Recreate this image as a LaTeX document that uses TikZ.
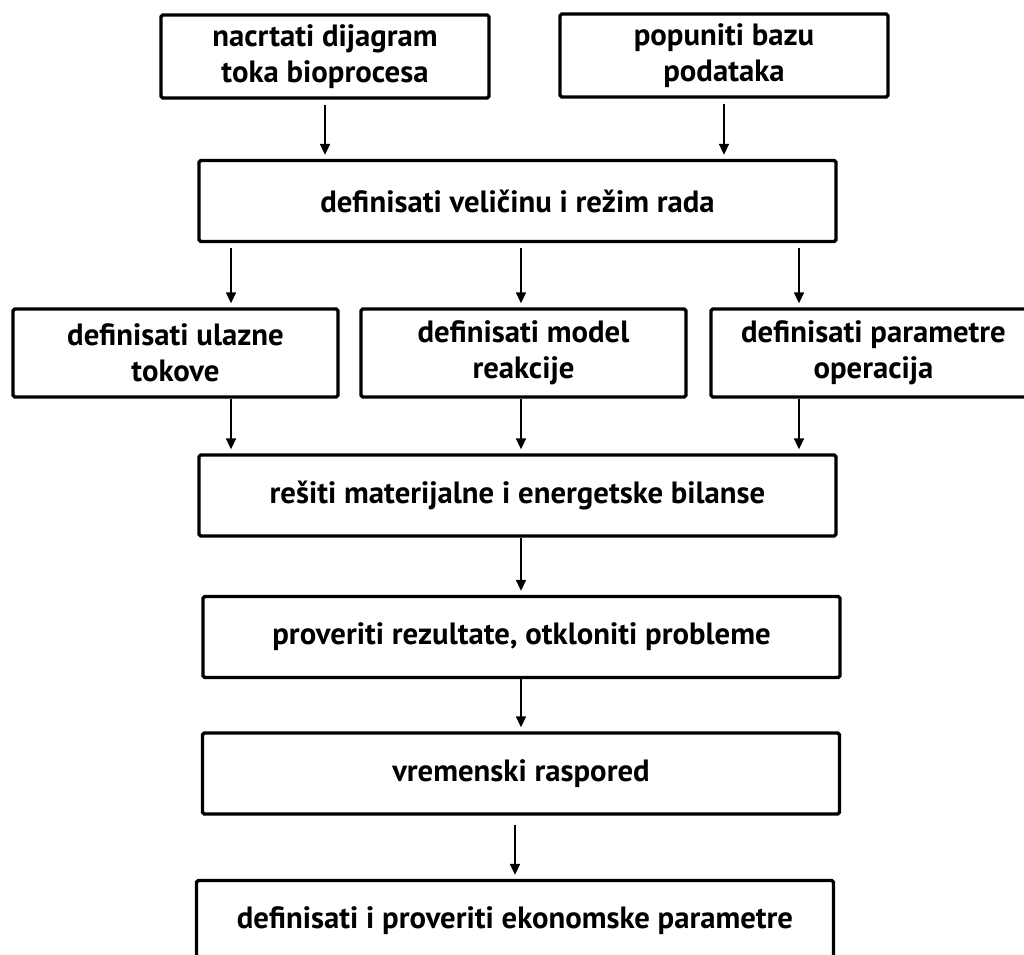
\documentclass[tikz,border=0pt]{standalone}
\usepackage{fontspec}
\setmainfont{PT Sans}
\usepackage{tikz}
\usetikzlibrary{arrows.meta,positioning,calc}

\begin{document}
\begin{tikzpicture}[
  every node/.style={font=\bfseries\fontsize{17.5}{20.5}\selectfont},
  topbox/.style={rectangle,draw,line width=1.9pt,rounded corners=1pt,
                 minimum width=6.56cm,minimum height=1.66cm,align=center,inner sep=0pt},
  rowbox/.style={rectangle,draw,line width=1.9pt,rounded corners=1pt,
                 minimum width=6.5cm,minimum height=1.76cm,align=center,inner sep=0pt},
  widebox/.style={rectangle,draw,line width=1.9pt,rounded corners=1pt,
                  minimum width=12.74cm,minimum height=1.62cm,align=center,inner sep=0pt},
  arrow/.style={-{Triangle[length=0.22cm,width=0.2cm]},line width=0.9pt,shorten >=0.08cm},
]
\useasboundingbox (0,0) rectangle (20.48,-19.10);
\clip (0,0) rectangle (20.48,-19.10);

% Top inputs
\node[topbox] (crtez) at (6.50,-1.13)  {nacrtati dijagram\\toka bioprocesa};
\node[topbox] (baza)  at (14.48,-1.11) {popuniti bazu\\podataka};

% Size and mode
\node[widebox] (velicina) at (10.35,-4.02) {definisati veličinu i režim rada};

% Three definitions
\node[rowbox] (tokovi)    at (3.51,-7.06)  {definisati ulazne\\tokove};
\node[rowbox] (model)     at (10.47,-7.06) {definisati model\\reakcije};
\node[rowbox] (parametri) at (17.47,-7.06) {definisati parametre\\operacija};

% Chain of steps
\node[widebox] (bilansi)  at (10.35,-9.91)  {rešiti materijalne i energetske bilanse};
\node[widebox] (provera)  at (10.43,-12.74) {proveriti rezultate, otkloniti probleme};
\node[widebox] (raspored) at (10.42,-15.47) {vremenski raspored};
\node[widebox] (ekonomija) at (10.30,-18.42) {definisati i proveriti ekonomske parametre};

% Arrow columns
\coordinate (xl) at (4.62,0);
\coordinate (xm) at (10.42,0);
\coordinate (xr) at (15.98,0);

% Arrows from inputs
\draw[arrow,shorten <=0.1cm] (crtez) -- (crtez.south |- velicina.north);
\draw[arrow,shorten <=0.1cm] (baza) -- (baza.south |- velicina.north);

% Arrows to the three definitions
\draw[arrow,shorten <=0.1cm] (velicina.south -| xl) -- (tokovi.north -| xl);
\draw[arrow,shorten <=0.1cm] (velicina.south -| xm) -- (model.north -| xm);
\draw[arrow,shorten <=0.1cm] (velicina.south -| xr) -- (parametri.north -| xr);

% Arrows to the balances
\draw[arrow] (tokovi.south -| xl) -- (bilansi.north -| xl);
\draw[arrow] (model.south -| xm) -- (bilansi.north -| xm);
\draw[arrow] (parametri.south -| xr) -- (bilansi.north -| xr);

% Down the chain
\draw[arrow] (bilansi.south -| xm) -- (provera.north -| xm);
\draw[arrow] (provera.south -| xm) -- (raspored.north -| xm);
\draw[arrow,shorten <=0.18cm] (raspored.south -| ekonomija.north) -- (ekonomija);

\end{tikzpicture}
\end{document}
